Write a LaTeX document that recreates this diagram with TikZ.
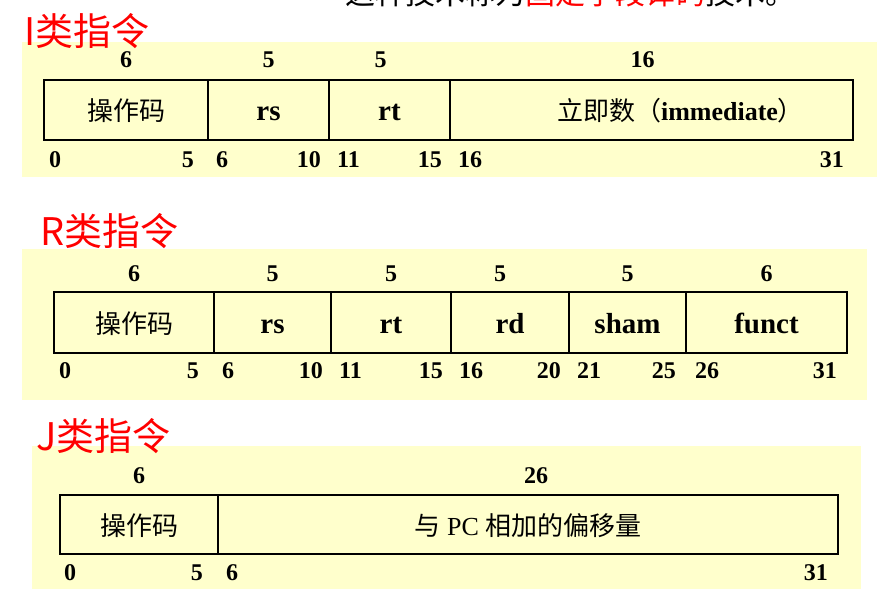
\documentclass[tikz,border=0pt]{standalone}
\usepackage{fontspec}
\setmainfont{Liberation Serif}
\newfontfamily\cjk{Noto Sans CJK SC}
\usetikzlibrary{positioning}
\definecolor{slideyellow}{HTML}{FFFFCC}
\definecolor{titlered}{HTML}{FF0000}

\begin{document}
\begin{tikzpicture}[x=1pt, y=-1pt,
    field/.style={rectangle, draw, line width=1.6pt, fill=slideyellow, outer sep=0pt,
                  inner sep=0pt, text height=22pt, text depth=0pt,
                  font=\fontsize{29}{32}\selectfont\bfseries},
    opcode/.style={font=\fontsize{26}{30}\selectfont\cjk},
    bitnum/.style={inner sep=0pt, font=\fontsize{24}{26}\selectfont\bfseries},
    kind/.style={inner sep=0pt, anchor=west, text=titlered, font=\fontsize{38}{42}\selectfont\cjk},
    panel/.style={fill=slideyellow}
]
\useasboundingbox (0,0) rectangle (877,607);

% heading line, cut off by the page edge
\node[inner sep=0pt, anchor=base west, font=\fontsize{30}{32}\selectfont\cjk] (head) at (345,5)
  {这种技术称为\textcolor{titlered}{固定字段译码}技术。};

% I type
\fill[panel] (22,42) rectangle (877,177);
\node[kind] (ititle) at (24,31) {I类指令};
\node[field, opcode, minimum width=164pt, minimum height=60pt, anchor=north west] (iop) at (44,80) {操作码};
\node[field, minimum width=121pt, minimum height=60pt, right=0pt of iop] (irs) {rs};
\node[field, minimum width=121pt, minimum height=60pt, right=0pt of irs] (irt) {rt};
\node[field, minimum width=403pt, minimum height=60pt, right=0pt of irt] (iimm) {};
\node[inner sep=0pt, xshift=29pt, text height=22pt, text depth=0pt, font=\fontsize{26}{30}\selectfont] (iimmtext) at (iimm.center)
  {{\cjk 立即数（}\textbf{immediate}{\cjk ）}};

\node[bitnum, above=12pt of iop] (iwop) {6};
\node[bitnum, above=12pt of irs] (iwrs) {5};
\node[bitnum, above=12pt of irt, xshift=-9pt] (iwrt) {5};
\node[bitnum, above=12pt of iimm, xshift=-9pt] (iwimm) {16};

\node[bitnum, anchor=west] (ib0) at ([xshift=5pt, yshift=-20pt]iop.south west) {0};
\node[bitnum, anchor=east] (ib5) at ([xshift=-14pt, yshift=-20pt]iop.south east) {5};
\node[bitnum, anchor=west] (ib6) at ([xshift=8pt, yshift=-20pt]irs.south west) {6};
\node[bitnum, anchor=east] (ib10) at ([xshift=-8pt, yshift=-20pt]irs.south east) {10};
\node[bitnum, anchor=west] (ib11) at ([xshift=8pt, yshift=-20pt]irt.south west) {11};
\node[bitnum, anchor=east] (ib15) at ([xshift=-8pt, yshift=-20pt]irt.south east) {15};
\node[bitnum, anchor=west] (ib16) at ([xshift=8pt, yshift=-20pt]iimm.south west) {16};
\node[bitnum, anchor=east] (ib31) at ([xshift=-9pt, yshift=-20pt]iimm.south east) {31};

% R type
\fill[panel] (22,249) rectangle (867,400);
\node[kind] (rtitle) at (40,231) {R类指令};
\node[field, opcode, minimum width=160pt, minimum height=61pt, anchor=north west] (rop) at (54,292) {操作码};
\node[field, minimum width=117pt, minimum height=61pt, right=0pt of rop] (rrs) {rs};
\node[field, minimum width=120pt, minimum height=61pt, right=0pt of rrs] (rrt) {rt};
\node[field, minimum width=118pt, minimum height=61pt, right=0pt of rrt] (rrd) {rd};
\node[field, minimum width=117pt, minimum height=61pt, right=0pt of rrd] (rsham) {sham};
\node[field, minimum width=161pt, minimum height=61pt, right=0pt of rsham] (rfunct) {funct};

\node[bitnum, above=10pt of rop] (rwop) {6};
\node[bitnum, above=10pt of rrs] (rwrs) {5};
\node[bitnum, above=10pt of rrt] (rwrt) {5};
\node[bitnum, above=10pt of rrd, xshift=-10pt] (rwrd) {5};
\node[bitnum, above=10pt of rsham] (rwsham) {5};
\node[bitnum, above=10pt of rfunct] (rwfunct) {6};

\node[bitnum, anchor=west] (rb0) at ([xshift=5pt, yshift=-18pt]rop.south west) {0};
\node[bitnum, anchor=east] (rb5) at ([xshift=-15pt, yshift=-18pt]rop.south east) {5};
\node[bitnum, anchor=west] (rb6) at ([xshift=8pt, yshift=-18pt]rrs.south west) {6};
\node[bitnum, anchor=east] (rb10) at ([xshift=-8pt, yshift=-18pt]rrs.south east) {10};
\node[bitnum, anchor=west] (rb11) at ([xshift=8pt, yshift=-18pt]rrt.south west) {11};
\node[bitnum, anchor=east] (rb15) at ([xshift=-8pt, yshift=-18pt]rrt.south east) {15};
\node[bitnum, anchor=west] (rb16) at ([xshift=8pt, yshift=-18pt]rrd.south west) {16};
\node[bitnum, anchor=east] (rb20) at ([xshift=-8pt, yshift=-18pt]rrd.south east) {20};
\node[bitnum, anchor=west] (rb21) at ([xshift=8pt, yshift=-18pt]rsham.south west) {21};
\node[bitnum, anchor=east] (rb25) at ([xshift=-10pt, yshift=-18pt]rsham.south east) {25};
\node[bitnum, anchor=west] (rb26) at ([xshift=9pt, yshift=-18pt]rfunct.south west) {26};
\node[bitnum, anchor=east] (rb31) at ([xshift=-10pt, yshift=-18pt]rfunct.south east) {31};

% J type
\fill[panel] (32,446) rectangle (861,589);
\node[kind] (jtitle) at (36,436) {J类指令};
\node[field, opcode, minimum width=158pt, minimum height=59pt, anchor=north west] (jop) at (60,495) {操作码};
\node[field, minimum width=620pt, minimum height=59pt, right=0pt of jop, font=\fontsize{26}{30}\selectfont] (joff)
  {{\cjk 与} PC {\cjk 相加的偏移量}};

\node[bitnum, above=11pt of jop] (jwop) {6};
\node[bitnum, above=11pt of joff, xshift=8pt] (jwoff) {26};

\node[bitnum, anchor=west] (jb0) at ([xshift=4pt, yshift=-19pt]jop.south west) {0};
\node[bitnum, anchor=east] (jb5) at ([xshift=-15pt, yshift=-19pt]jop.south east) {5};
\node[bitnum, anchor=west] (jb6) at ([xshift=8pt, yshift=-19pt]joff.south west) {6};
\node[bitnum, anchor=east] (jb31) at ([xshift=-10pt, yshift=-19pt]joff.south east) {31};
\end{tikzpicture}
\end{document}
